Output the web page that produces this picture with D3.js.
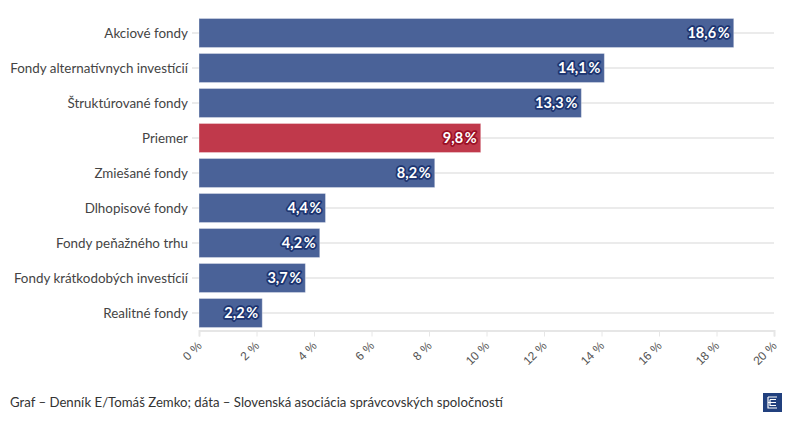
<!DOCTYPE html>
<html>
<head>
<meta charset="utf-8">
<script src="https://cdn.jsdelivr.net/npm/d3@7"></script>
<style>
	body { margin: 0; background: #fff; font-family: 'Source Sans Pro', Lato, 'Noto Sans', sans-serif; }
	.cat { font-size: 13.4px; fill: #444; }
	.tick text { font-size: 12px; fill: #555; }
	.val { font-size: 14.5px; font-weight: bold; fill: #fff; paint-order: stroke; stroke-width: 3.5px; stroke-linejoin: round; }
	.foot { font-size: 13.2px; fill: #333; }
</style>
</head>
<body>
<div id="viz"></div>
<script>
categories = [
	'Akciové fondy',
	'Fondy alternatívnych investícií',
	'Štruktúrované fondy',
	'Priemer',
	'Zmiešané fondy',
	'Dlhopisové fondy',
	'Fondy peňažného trhu',
	'Fondy krátkodobých investícií',
	'Realitné fondy'
	];
values = [18.6, 14.1, 13.3, 9.8, 8.2, 4.4, 4.2, 3.7, 2.2];
ticks = [0, 2, 4, 6, 8, 10, 12, 14, 16, 18, 20];
highlight = 'Priemer';

// dimensions
margin = {top: 15.5, right: 20, bottom: 93.5, left: 199};
width = 794;
height = 424;
w = width - margin.left - margin.right;
h = height - margin.top - margin.bottom;

var fmt = function(v) { return String(v).replace('.', ',') + '\u2009%'; };

xScale = d3.scaleLinear().domain([0, 20]).range([0, w]);
yScale = d3.scaleBand().domain(categories).range([0, h]).paddingInner(0.17).paddingOuter(0.085);

svg = d3.select('#viz').append('svg')
	.attr('width', width)
	.attr('height', height);

g = svg.append('g')
	.attr('transform', 'translate(' + margin.left + ',' + margin.top + ')');

// horizontal grid lines + small ticks by labels
g.selectAll('line.grid')
	.data(categories)
	.enter()
	.append('line')
	.attr('x1', -7)
	.attr('x2', w)
	.attr('y1', d => yScale(d) + yScale.bandwidth() / 2)
	.attr('y2', d => yScale(d) + yScale.bandwidth() / 2)
	.attr('stroke', '#ebebeb')
	.attr('stroke-width', 2);

// bottom axis
xAxis = g.append('g')
	.attr('transform', 'translate(0,' + h + ')')
	.call(d3.axisBottom(xScale).tickValues(ticks).tickFormat(d => d + ' %').tickSize(6));
xAxis.select('.domain').attr('stroke', '#e6e6e6').attr('stroke-width', 2);
xAxis.selectAll('.tick line').attr('stroke', '#e6e6e6');
xAxis.selectAll('.tick text')
	.attr('text-anchor', 'end')
	.attr('x', 0)
	.attr('y', 0)
	.attr('dy', 0)
	.attr('transform', 'translate(3,16) rotate(-45)');

// bars
g.selectAll('rect.bar')
	.data(values)
	.enter()
	.append('rect')
	.attr('x', 0)
	.attr('y', (d, i) => yScale(categories[i]))
	.attr('width', d => xScale(d))
	.attr('height', yScale.bandwidth())
	.attr('fill', (d, i) => categories[i] == highlight ? '#c0394b' : '#4a6298')
	.attr('stroke', '#fff')
	.attr('stroke-opacity', 0.35)
	.attr('stroke-width', 1);

// category labels
g.selectAll('text.cat')
	.data(categories)
	.enter()
	.append('text')
	.attr('class', 'cat')
	.attr('x', -11)
	.attr('y', d => yScale(d) + yScale.bandwidth() / 2)
	.attr('dy', '0.35em')
	.attr('text-anchor', 'end')
	.text(d => d);

// value labels
g.selectAll('text.val')
	.data(values)
	.enter()
	.append('text')
	.attr('class', 'val')
	.attr('x', d => xScale(d) - 4)
	.attr('y', (d, i) => yScale(categories[i]) + yScale.bandwidth() / 2)
	.attr('dy', '0.35em')
	.attr('text-anchor', 'end')
	.attr('stroke', (d, i) => categories[i] == highlight ? '#9b0f25' : '#1c3470')
	.text(d => fmt(d));

// footer
svg.append('text')
	.attr('class', 'foot')
	.attr('x', 10)
	.attr('y', 407)
	.text('Graf – Denník E/Tomáš Zemko; dáta – Slovenská asociácia správcovských spoločností');

// logo
logo = svg.append('g').attr('transform', 'translate(763,393)');
logo.append('rect').attr('width', 19).attr('height', 19).attr('fill', '#21407e');
logo.append('path')
	.attr('d', 'M5,4 H14 M5,4 V15 H14 M5,9.5 H13 M7,6.5 H13 M7,6.5 V12.5 H13')
	.attr('fill', 'none')
	.attr('stroke', '#fff')
	.attr('stroke-width', 1.2);
</script>
</body>
</html>
